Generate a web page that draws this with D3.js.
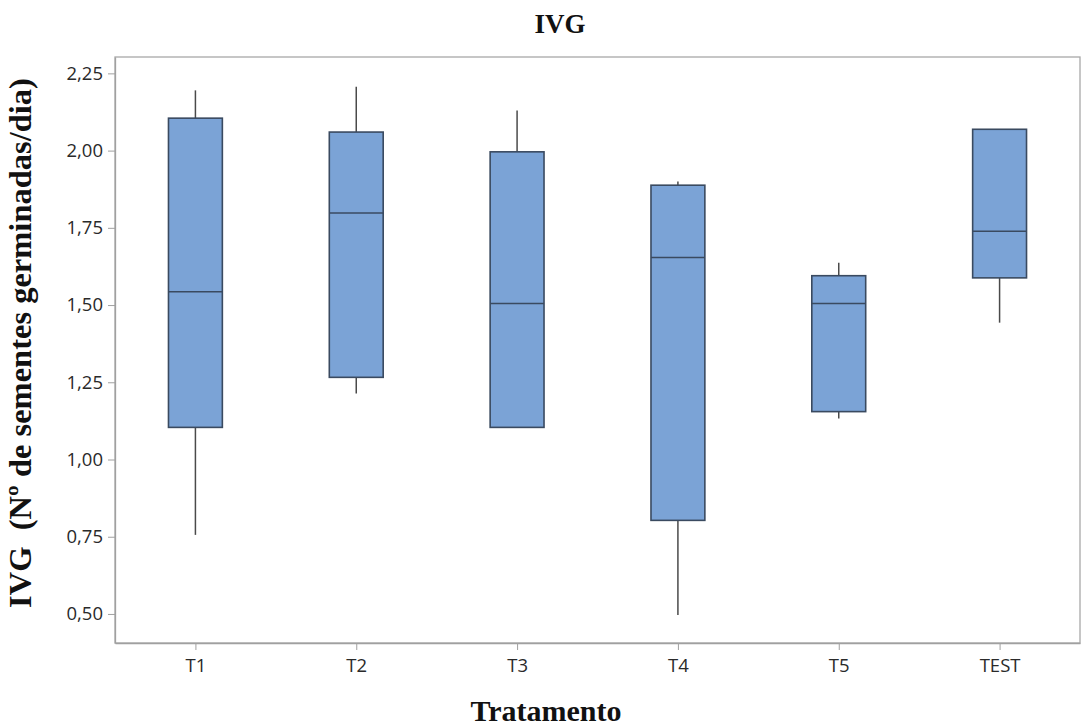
<!DOCTYPE html>
<html>
<head>
<meta charset="utf-8">
<script src="https://cdn.jsdelivr.net/npm/d3@7"></script>
<style>
  html, body { margin: 0; padding: 0; background: #fff; }
  svg { display: block; }
</style>
</head>
<body>
<svg id="chart" width="1083" height="728"></svg>
<script>
const categories = ["T1", "T2", "T3", "T4", "T5", "TEST"];
const whiskerLow  = [0.756, 1.214, 1.104, 0.497, 1.133, 1.443];
const q1          = [1.104, 1.266, 1.104, 0.803, 1.155, 1.588];
const median      = [1.543, 1.798, 1.505, 1.654, 1.505, 1.739];
const q3          = [2.105, 2.060, 1.996, 1.888, 1.595, 2.069];
const whiskerHigh = [2.195, 2.207, 2.130, 1.900, 1.637, 2.069];
const yTicks = [0.50, 0.75, 1.00, 1.25, 1.50, 1.75, 2.00, 2.25];

const svg = d3.select("#chart");
const plotLeft = 115, plotRight = 1080, plotTop = 57, plotBottom = 643;

const x = d3.scalePoint().domain(categories).range([plotLeft, plotRight]).padding(0.5);
const y = d3.scaleLinear().domain([0.406, 2.303]).range([plotBottom, plotTop]);
const boxW = x.step() * 0.335;

const fmt = v => d3.format(".2f")(v).replace(".", ",");
const sans = "'Open Sans', sans-serif";

// frame
svg.append("rect")
  .attr("x", plotLeft).attr("y", plotTop)
  .attr("width", plotRight - plotLeft).attr("height", plotBottom - plotTop)
  .attr("fill", "#fff").attr("stroke", "#a8a8a8").attr("stroke-width", 1.3);

// y axis
const yAxis = svg.append("g").attr("transform", `translate(${plotLeft},0)`)
  .call(d3.axisLeft(y).tickValues(yTicks).tickFormat(fmt)
    .tickSizeInner(7).tickSizeOuter(0).tickPadding(5));
yAxis.select(".domain").attr("stroke", "#a0a0a0").attr("stroke-width", 1.3);
yAxis.selectAll(".tick line").attr("stroke", "#a0a0a0");
yAxis.selectAll(".tick text")
  .attr("font-family", sans).attr("font-size", 18.5).attr("fill", "#2a2a2a");

// x axis
const xAxis = svg.append("g").attr("transform", `translate(0,${plotBottom})`)
  .call(d3.axisBottom(x).tickSizeInner(7).tickSizeOuter(0).tickPadding(9));
xAxis.select(".domain").attr("stroke", "#a0a0a0").attr("stroke-width", 1.3);
xAxis.selectAll(".tick line").attr("stroke", "#a0a0a0");
xAxis.selectAll(".tick text")
  .attr("font-family", sans).attr("font-size", 18.5).attr("fill", "#2a2a2a");

// boxes
const data = categories.map((c, i) => ({
  c, lo: whiskerLow[i], q1: q1[i], med: median[i], q3: q3[i], hi: whiskerHigh[i]
}));
const g = svg.append("g");
const stroke = "#3a4a60";
data.forEach(d => {
  const cx = x(d.c);
  if (d.hi > d.q3) {
    g.append("line").attr("x1", cx).attr("x2", cx).attr("y1", y(d.q3)).attr("y2", y(d.hi))
      .attr("stroke", "#4a4a4a").attr("stroke-width", 1.5);
  }
  if (d.lo < d.q1) {
    g.append("line").attr("x1", cx).attr("x2", cx).attr("y1", y(d.q1)).attr("y2", y(d.lo))
      .attr("stroke", "#4a4a4a").attr("stroke-width", 1.5);
  }
  g.append("rect")
    .attr("x", cx - boxW / 2).attr("width", boxW)
    .attr("y", y(d.q3)).attr("height", y(d.q1) - y(d.q3))
    .attr("fill", "#7ba3d6").attr("stroke", stroke).attr("stroke-width", 1.6);
  g.append("line")
    .attr("x1", cx - boxW / 2).attr("x2", cx + boxW / 2)
    .attr("y1", y(d.med)).attr("y2", y(d.med))
    .attr("stroke", stroke).attr("stroke-width", 1.6);
});

// titles
const serif = "'Liberation Serif', 'Times New Roman', serif";
svg.append("text").attr("x", 560).attr("y", 33).attr("text-anchor", "middle")
  .attr("font-family", serif).attr("font-weight", "bold").attr("font-size", 27)
  .attr("fill", "#111").text("IVG");
svg.append("text").attr("x", 546).attr("y", 721).attr("text-anchor", "middle")
  .attr("font-family", serif).attr("font-weight", "bold").attr("font-size", 30)
  .attr("fill", "#111").text("Tratamento");
svg.append("text")
  .attr("transform", "translate(31,343) rotate(-90)")
  .attr("text-anchor", "middle")
  .attr("font-family", serif).attr("font-weight", "bold").attr("font-size", 32.5)
  .attr("fill", "#111")
  .attr("xml:space", "preserve")
  .style("white-space", "pre")
  .text("IVG  (Nº de sementes germinadas/dia)");
</script>
</body>
</html>
